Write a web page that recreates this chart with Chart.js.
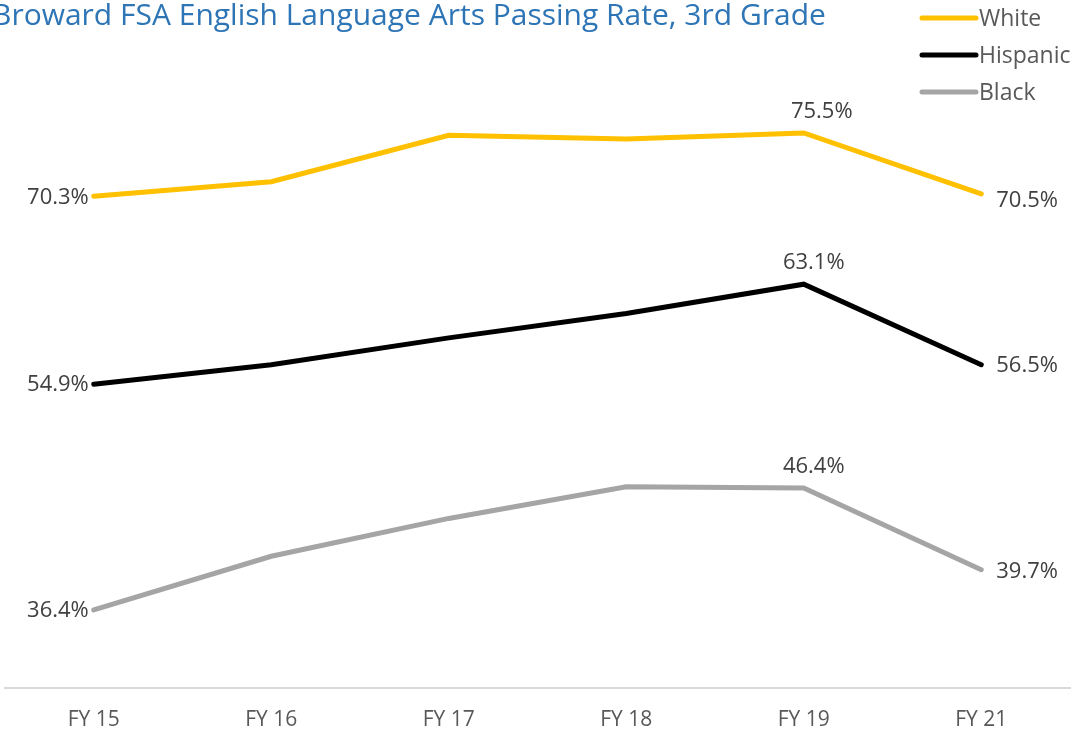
<!DOCTYPE html>
<html>
<head>
    <title>Broward FSA English Language Arts Passing Rate, 3rd Grade</title>
    <script src="https://cdn.jsdelivr.net/npm/chart.js"></script>
    <style>
        body { margin: 0; background: #fff; }
        #wrap { width: 1083px; height: 734px; }
    </style>
</head>
<body>
    <div id="wrap"><canvas id="ftaChart"></canvas></div>
    <script>
        const title = 'Broward FSA English Language Arts Passing Rate, 3rd Grade';
        const years = ['FY 15', 'FY 16', 'FY 17', 'FY 18', 'FY 19', 'FY 21'];
        const white = [70.3, 71.5, 75.3, 75.0, 75.5, 70.5];
        const hispanic = [54.9, 56.5, 58.7, 60.7, 63.1, 56.5];
        const black = [36.4, 40.8, 43.9, 46.5, 46.4, 39.7];
        // which points carry a % label
        const labelled = [0, 4, 5];

        const font = "'Open Sans', 'DejaVu Sans', sans-serif";

        // small per-series nudges so labels clear the lines: [peak dx, end dy]
        const nudge = [[18, 7], [10, 1], [10, 2]];

        // title, legend and point labels drawn straight onto the canvas
        const decorations = {
            id: 'decorations',
            afterDatasetsDraw(chart) {
                const ctx = chart.ctx;
                ctx.save();

                ctx.fillStyle = '#2E75B6';
                ctx.font = `30px ${font}`;
                ctx.textBaseline = 'alphabetic';
                ctx.textAlign = 'left';
                ctx.fillText(title, -8, 25);

                ctx.font = `23px ${font}`;
                chart.data.datasets.forEach((ds, i) => {
                    const y = 18 + i * 37;
                    ctx.strokeStyle = ds.borderColor;
                    ctx.lineWidth = 5;
                    ctx.lineCap = 'round';
                    ctx.beginPath();
                    ctx.moveTo(922, y);
                    ctx.lineTo(976, y);
                    ctx.stroke();
                    ctx.fillStyle = '#595959';
                    ctx.textAlign = 'left';
                    ctx.textBaseline = 'middle';
                    ctx.fillText(ds.label, 979, y + 1);
                });

                ctx.fillStyle = '#404040';
                ctx.font = `22px ${font}`;
                ctx.textBaseline = 'middle';
                chart.data.datasets.forEach((ds, i) => {
                    const meta = chart.getDatasetMeta(i);
                    labelled.forEach(idx => {
                        const pt = meta.data[idx];
                        const text = ds.data[idx].toFixed(1) + '%';
                        if (idx === 0) {
                            ctx.textAlign = 'right';
                            ctx.fillText(text, pt.x - 5, pt.y + 1);
                        } else if (idx === years.length - 1) {
                            ctx.textAlign = 'left';
                            ctx.fillText(text, pt.x + 15, pt.y + nudge[i][1]);
                        } else {
                            ctx.textAlign = 'center';
                            ctx.fillText(text, pt.x + nudge[i][0], pt.y - 21);
                        }
                    });
                });
                ctx.restore();
            }
        };

        new Chart(document.getElementById('ftaChart'), {
            type: 'line',
            data: {
                labels: years,
                datasets: [
                    { label: 'White', data: white, borderColor: '#FFC000' },
                    { label: 'Hispanic', data: hispanic, borderColor: '#000000' },
                    { label: 'Black', data: black, borderColor: '#A5A5A5' }
                ]
            },
            options: {
                responsive: true,
                maintainAspectRatio: false,
                animation: false,
                datasets: {
                    line: {
                        borderWidth: 5,
                        pointRadius: 0,
                        tension: 0,
                        borderCapStyle: 'round',
                        borderJoinStyle: 'miter'
                    }
                },
                layout: { padding: { top: 78, left: 5, right: 13, bottom: 0 } },
                plugins: {
                    legend: { display: false },
                    title: { display: false },
                    tooltip: { enabled: false }
                },
                scales: {
                    x: {
                        offset: true,
                        grid: { display: false, drawTicks: false },
                        border: { display: true, color: '#D9D9D9', width: 2 },
                        ticks: {
                            color: '#595959',
                            font: { family: font, size: 21 },
                            padding: 19
                        },
                        afterFit(scale) { scale.height = 46; }
                    },
                    y: {
                        display: false,
                        min: 30,
                        max: 80
                    }
                }
            },
            plugins: [decorations]
        });
    </script>
</body>
</html>
